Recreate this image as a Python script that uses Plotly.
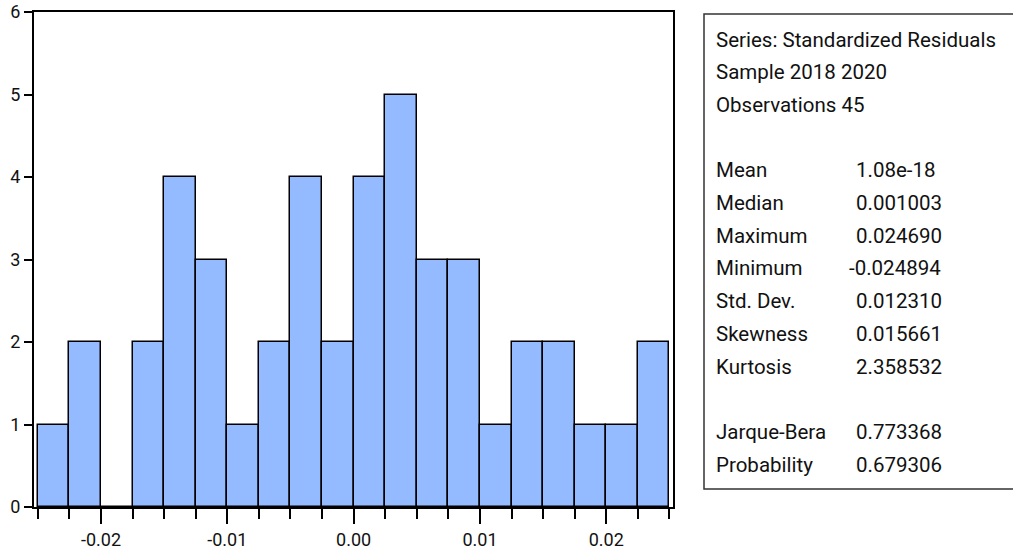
import plotly.graph_objects as go

# ---- data ----
bin_start = -0.025
bin_width = 0.0025
counts = [1, 2, 0, 2, 4, 3, 1, 2, 4, 2, 4, 5, 3, 3, 1, 2, 2, 1, 1, 2]
x_tickvals = [-0.02, -0.01, 0.00, 0.01, 0.02]
x_ticktext = ["-0.02", "-0.01", "0.00", "0.01", "0.02"]
y_tickvals = [0, 1, 2, 3, 4, 5, 6]

header_lines = ["Series: Standardized Residuals", "Sample 2018 2020", "Observations 45"]
stat_labels = ["Mean", "Median", "Maximum", "Minimum", "Std. Dev.", "Skewness", "Kurtosis"]
stat_values = ["1.08e-18", "0.001003", "0.024690", "-0.024894", "0.012310", "0.015661", "2.358532"]
test_labels = ["Jarque-Bera", "Probability"]
test_values = ["0.773368", "0.679306"]

centers = [bin_start + bin_width * (i + 0.5) for i in range(len(counts))]

W, H = 1013, 551
L, R, T, B = 34, 340, 12, 44
FONT = "Roboto, Liberation Sans, Arial, sans-serif"


def px(xp):
    return (xp - L) / (W - L - R)


def py(yp):
    return (H - B - yp) / (H - T - B)


fig = go.Figure(go.Bar(
    x=centers, y=counts, width=bin_width,
    marker=dict(color="rgb(148,187,255)", line=dict(color="black", width=1.5)),
    hoverinfo="x+y",
))

fig.update_layout(
    width=W, height=H,
    margin=dict(l=L, r=R, t=T, b=B, pad=0, autoexpand=False),
    paper_bgcolor="white", plot_bgcolor="white",
    showlegend=False, bargap=0,
    font=dict(family=FONT, size=18, color="#111"),
)
fig.update_xaxes(
    range=[-0.0253, 0.02528], tickvals=x_tickvals, ticktext=x_ticktext,
    ticks="outside", ticklen=15, tickwidth=1.5, tickcolor="black",
    showline=True, linecolor="black", linewidth=2, mirror=True,
    showgrid=False, zeroline=False, automargin=False,
    minor=dict(tick0=bin_start, dtick=bin_width, ticks="outside", ticklen=10,
               tickwidth=1.5, tickcolor="black", showgrid=False),
    tickfont=dict(family=FONT, size=18, color="#111"),
)
fig.update_yaxes(
    range=[0, 6], tickvals=y_tickvals,
    ticks="outside", ticklen=8, tickwidth=1.5, tickcolor="black",
    showline=True, linecolor="black", linewidth=2, mirror=True,
    showgrid=False, zeroline=False, automargin=False,
    tickfont=dict(family=FONT, size=18, color="#111"),
)

# stats box
fig.add_shape(type="rect", xref="paper", yref="paper",
              x0=px(704), x1=px(1020), y0=py(489), y1=py(14),
              line=dict(color="#333", width=1.5), fillcolor="rgba(0,0,0,0)")

line_h = 32.7
y0 = 39.5


def add_text(text, xpix, line_idx, shift=0):
    fig.add_annotation(
        xref="paper", yref="paper", x=px(xpix), y=py(y0 + line_h * line_idx),
        text=text, showarrow=False, xanchor="left", yanchor="middle",
        xshift=shift, font=dict(family=FONT, size=20.5, color="#111"),
    )


for i, t in enumerate(header_lines):
    add_text(t, 714, i)
for j, (lab, val) in enumerate(zip(stat_labels, stat_values)):
    add_text(lab, 714, 4 + j)
    add_text(val, 854, 4 + j, shift=-7 if val.startswith("-") else 0)
for j, (lab, val) in enumerate(zip(test_labels, test_values)):
    add_text(lab, 714, 12 + j)
    add_text(val, 854, 12 + j)

fig.write_html(
    "out.html",
    config={"displayModeBar": False},
    post_script="document.body.style.margin='0';document.body.style.overflow='hidden';",
)
